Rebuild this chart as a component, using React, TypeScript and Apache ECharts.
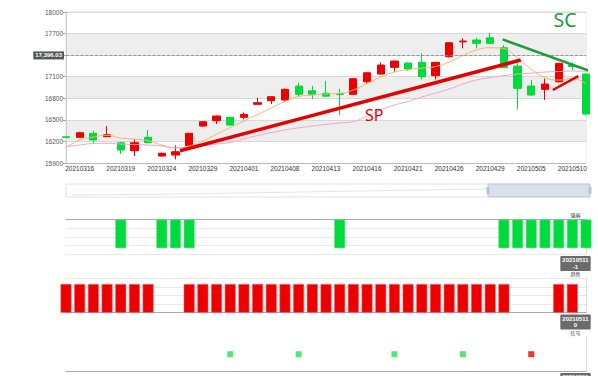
import React, { useEffect, useRef } from 'react';
import * as echarts from 'echarts';

const dates = [
  '20210315', '20210316', '20210317', '20210318', '20210319', '20210322', '20210323', '20210324',
  '20210325', '20210326', '20210329', '20210330', '20210331', '20210401', '20210406', '20210407',
  '20210408', '20210409', '20210412', '20210413', '20210414', '20210415', '20210416', '20210419',
  '20210420', '20210421', '20210422', '20210423', '20210426', '20210427', '20210428', '20210429',
  '20210430', '20210504', '20210505', '20210506', '20210507', '20210510', '20210511',
];

// [open, close, low, high]
const candles = [
  [16265, 16255, 16250, 16268], [16257, 16321, 16252, 16335], [16313, 16220, 16182, 16349],
  [16266, 16293, 16262, 16414], [16182, 16081, 16025, 16196], [16071, 16182, 15997, 16229],
  [16257, 16182, 16175, 16359], [15997, 16035, 15990, 16045], [16011, 16057, 15951, 16146],
  [16141, 16313, 16135, 16320], [16414, 16474, 16405, 16480], [16488, 16553, 16442, 16560],
  [16535, 16428, 16420, 16540], [16535, 16577, 16507, 16605], [16716, 16738, 16712, 16808],
  [16766, 16822, 16720, 16828], [16776, 16924, 16755, 16935], [16970, 16855, 16822, 17016],
  [16905, 16855, 16790, 16975], [16869, 16830, 16815, 17040], [16862, 16855, 16567, 16933],
  [16855, 17072, 16850, 17080], [17030, 17155, 17000, 17160], [17137, 17262, 17130, 17300],
  [17230, 17318, 17169, 17325], [17290, 17207, 17180, 17300], [17300, 17100, 17063, 17425],
  [17115, 17300, 17063, 17305], [17378, 17572, 17370, 17578], [17585, 17595, 17494, 17633],
  [17610, 17564, 17494, 17641], [17641, 17564, 17555, 17711], [17503, 17225, 17220, 17540],
  [17248, 16938, 16646, 17286], [16970, 16845, 16840, 17054], [16924, 16998, 16776, 17072],
  [17030, 17286, 17020, 17295], [17262, 17240, 17190, 17300], [17137, 16581, 16570, 17140],
];

const ma5 = [
  16113, 16220, 16261, 16285, 16248, 16234, 16210, 16150, 16109, 16136, 16206, 16300, 16392,
  16484, 16574, 16665, 16755, 16824, 16845, 16859, 16869, 16915, 17005, 17095, 17165, 17200,
  17220, 17241, 17304, 17394, 17471, 17503, 17491, 17359, 17207, 17088, 17054, 17075, 16998,
];

const ma20 = [
  16127, 16150, 16171, 16174, 16164, 16157, 16150, 16136, 16115, 16115, 16136, 16164, 16185,
  16234, 16282, 16324, 16359, 16389, 16414, 16438, 16456, 16477, 16553, 16637, 16706, 16755,
  16817, 16873, 16929, 16998, 17054, 17088, 17116, 17137, 17151, 17165, 17172, 17179, 17172,
];

const yMin = 15900;
const yMax = 18000;
const yInterval = 300;
const lastPrice = 17396.03;

// trend lines: [index position, value]
const spLine = [[8.33, 16071], [33.23, 17332]];
const spLine2 = [[35.57, 16915], [37.44, 17109]];
const scLine = [[31.91, 17619], [38.9, 17137]];

const sig1 = [
  0, 0, 0, 0, -1, 0, 0, -1, -1, -1, 0, 0, 0, 0, 0, 0, 0, 0, 0, 0, -1, 0, 0, 0, 0, 0,
  0, 0, 0, 0, 0, 0, -1, -1, -1, -1, -1, -1, -1,
];
const sig2 = [
  1, 1, 1, 1, 1, 1, 1, 0, 0, 1, 1, 1, 1, 1, 1, 1, 1, 1, 1, 1, 1, 1, 1, 1, 1, 1,
  1, 1, 1, 1, 1, 1, 1, 0, 0, 0, 1, 1, 0,
];
const sig3 = [
  0, 0, 0, 0, 0, 0, 0, 0, 0, 0, 0, 0, 1, 0, 0, 0, 0, 1, 0, 0, 0, 0, 0, 0, 1, 0,
  0, 0, 0, 1, 0, 0, 0, 0, -1, 0, 0, 0, 0,
];
const subNames = ['强弱', '趋势', '信号'];

const UP = '#ec0000';
const DOWN = '#00da3c';
const FONT = 'Liberation Sans';

export default function App() {
  const ref = useRef<HTMLDivElement>(null);
  useEffect(() => {
    if (!ref.current) return;
    const chart = echarts.init(ref.current, undefined, { renderer: 'svg' });
    const n = dates.length;
    const last = n - 1;
    const gridL = 66;
    const gridR = 12;

    const subX = (gi: number) => ({
      type: 'category',
      gridIndex: gi,
      data: dates,
      boundaryGap: false,
      axisLabel: { show: false },
      axisTick: { show: false },
      axisLine: { show: true, onZero: gi === 1, lineStyle: { color: '#aaa' } },
      splitLine: { show: false },
    });

    const subY = (gi: number, min: number, max: number, split: boolean) => ({
      type: 'value',
      gridIndex: gi,
      position: 'right',
      min,
      max,
      interval: 0.3,
      axisLabel: { show: false },
      axisTick: { show: false },
      axisLine: { show: true, lineStyle: { color: '#ddd' } },
      splitLine: { show: split, lineStyle: { color: '#e8e8e8' } },
    });

    const boxes: any[] = [];
    const boxTops = [256, 314.5, 373];
    const nameYs = [212, 271, 329.5];
    const sigs = [sig1, sig2, sig3];
    for (let k = 0; k < 3; k++) {
      boxes.push({
        type: 'text',
        x: 575.5,
        y: nameYs[k],
        z: 100,
        style: {
          text: subNames[k],
          fill: '#333',
          font: '5px "Noto Sans CJK SC"',
          align: 'center',
          verticalAlign: 'top',
        },
      });
      boxes.push({
        type: 'text',
        x: 575.5,
        y: boxTops[k],
        z: 100,
        style: {
          text: dates[last] + '\n' + sigs[k][last],
          fill: '#fff',
          font: 'bold 6px ' + FONT,
          lineHeight: 6.5,
          align: 'center',
          verticalAlign: 'top',
          backgroundColor: '#6b6b6b',
          padding: [1, 2, 1, 2],
          borderRadius: 1,
        },
      });
    }

    const option: any = {
      animation: false,
      textStyle: { fontFamily: FONT },
      grid: [
        { left: gridL, right: gridR, top: 12, height: 151, show: true, borderColor: '#ddd', borderWidth: 1 },
        { left: gridL, right: gridR, top: 219.5, height: 34.5 },
        { left: gridL, right: gridR, top: 278.3, height: 34.4 },
        { left: gridL, right: gridR, top: 336.7, height: 35 },
      ],
      xAxis: [
        {
          type: 'category',
          gridIndex: 0,
          data: dates,
          boundaryGap: false,
          axisLine: { lineStyle: { color: '#bbb' } },
          axisTick: { show: false },
          axisLabel: {
            interval: (i: number) => i % 3 === 1,
            fontSize: 6.5,
            color: '#333',
            margin: 2,
            fontFamily: FONT,
          },
          splitLine: { show: false },
        },
        subX(1),
        subX(2),
        { ...subX(3), axisLine: { show: true, onZero: false, lineStyle: { color: '#aaa' } } },
        { type: 'value', gridIndex: 0, min: 0, max: n - 1, show: false },
      ],
      yAxis: [
        {
          type: 'value',
          gridIndex: 0,
          min: yMin,
          max: yMax,
          interval: yInterval,
          axisLine: { show: true, lineStyle: { color: '#ccc' } },
          axisTick: { show: true, length: 3, lineStyle: { color: '#aaa' } },
          axisLabel: {
            fontSize: 6.5,
            color: '#555',
            margin: 3,
            fontFamily: FONT,
            formatter: (v: number) => (Math.abs(v - lastPrice) < 150 ? '' : String(v)),
          },
          splitLine: { show: true, lineStyle: { color: '#d8d8d8' } },
          splitArea: { show: true, areaStyle: { color: ['#ffffff', '#eeeeee'] } },
        },
        subY(1, -1.2, 0, true),
        subY(2, 0, 1.2, true),
        { ...subY(3, -1, 1, false), interval: 1 },
      ],
      series: [
        {
          type: 'candlestick',
          xAxisIndex: 0,
          yAxisIndex: 0,
          data: candles,
          barWidth: '56%',
          clip: false,
          itemStyle: { color: UP, color0: DOWN, borderColor: UP, borderColor0: DOWN, borderWidth: 1 },
          markLine: {
            silent: true,
            symbol: 'none',
            data: [{ yAxis: lastPrice }],
            lineStyle: { type: 'dashed', color: '#888', width: 0.8 },
            label: {
              position: 'start',
              distance: 2,
              formatter: () => lastPrice.toLocaleString('en-US', { minimumFractionDigits: 2 }),
              color: '#fff',
              fontSize: 6,
              fontWeight: 'bold',
              fontFamily: FONT,
              backgroundColor: '#555',
              padding: [1, 2, 1, 2],
            },
          },
        },
        {
          type: 'line',
          xAxisIndex: 0,
          yAxisIndex: 0,
          data: ma5,
          smooth: true,
          showSymbol: false,
          lineStyle: { color: '#f5b56a', width: 1 },
        },
        {
          type: 'line',
          xAxisIndex: 0,
          yAxisIndex: 0,
          data: ma20,
          smooth: true,
          showSymbol: false,
          lineStyle: { color: '#f2a3c6', width: 1 },
        },
        {
          type: 'line',
          xAxisIndex: 4,
          yAxisIndex: 0,
          data: spLine,
          showSymbol: false,
          clip: false,
          lineStyle: { color: '#e60000', width: 3.5 },
          z: 5,
        },
        {
          type: 'line',
          xAxisIndex: 4,
          yAxisIndex: 0,
          data: spLine2,
          showSymbol: false,
          clip: false,
          lineStyle: { color: '#e60000', width: 2.5 },
          z: 5,
        },
        {
          type: 'line',
          xAxisIndex: 4,
          yAxisIndex: 0,
          data: scLine,
          showSymbol: false,
          clip: false,
          lineStyle: { color: '#1a9e3a', width: 2.5 },
          z: 5,
        },
        {
          type: 'bar',
          xAxisIndex: 1,
          yAxisIndex: 1,
          data: sig1.map((v) => (v === 0 ? null : v)),
          barWidth: '80%',
          clip: false,
          itemStyle: { color: DOWN, borderColor: '#5ee87f', borderWidth: 0.6 },
        },
        {
          type: 'bar',
          xAxisIndex: 2,
          yAxisIndex: 2,
          data: sig2.map((v) => (v === 0 ? null : v)),
          barWidth: '80%',
          clip: false,
          itemStyle: { color: UP, borderColor: '#f56060', borderWidth: 0.6 },
        },
        {
          type: 'scatter',
          xAxisIndex: 3,
          yAxisIndex: 3,
          symbol: 'rect',
          symbolSize: 6,
          data: sig3
            .map((v, i) => (v === 0 ? null : { value: [i, 0], itemStyle: { color: v > 0 ? '#2fdc5a' : UP } }))
            .filter((d) => d !== null),
        },
      ],
      graphic: [
        {
          type: 'text',
          x: 365,
          y: 107,
          z: 100,
          style: { text: 'SP', fill: '#e60000', font: '16px "Noto Sans"', verticalAlign: 'top' },
        },
        {
          type: 'text',
          x: 553.5,
          y: 9,
          z: 100,
          style: { text: 'SC', fill: '#1a9e3a', font: '19.5px "Noto Sans"', verticalAlign: 'top' },
        },
        {
          type: 'rect',
          shape: { x: 66, y: 184, width: 524, height: 13 },
          style: { fill: '#fff', stroke: '#e2e2e2', lineWidth: 1 },
        },
        {
          type: 'polyline',
          shape: { points: [[72, 195], [180, 194], [300, 192], [420, 190], [488, 189]] },
          style: { stroke: '#e4e4e4', lineWidth: 1, fill: 'none' },
        },
        {
          type: 'rect',
          shape: { x: 488, y: 184, width: 102, height: 13 },
          style: { fill: 'rgba(170,186,210,0.45)', stroke: '#c5cdd8', lineWidth: 1 },
        },
        {
          type: 'rect',
          shape: { x: 486.5, y: 187, width: 3, height: 7 },
          style: { fill: '#b9c3cf' },
        },
        {
          type: 'rect',
          shape: { x: 588.5, y: 187, width: 3, height: 7 },
          style: { fill: '#b9c3cf' },
        },
        ...boxes,
      ],
    };
    chart.setOption(option);
    return () => chart.dispose();
  }, []);

  return (
    <div
      ref={ref}
      style={{ position: 'fixed', left: 0, top: 0, width: 598, height: 376, background: '#fff' }}
    />
  );
}
